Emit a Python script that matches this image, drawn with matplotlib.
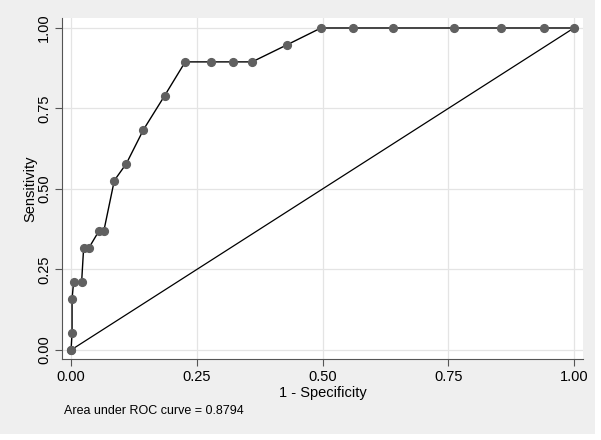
import numpy as np
import matplotlib.pyplot as plt
from matplotlib.patches import Rectangle

plt.rcParams['font.family'] = ['Liberation Sans', 'DejaVu Sans']

# ROC points (1 - specificity, sensitivity)
fpr = [0.0, 0.0, 0.002, 0.002, 0.005, 0.021, 0.025, 0.035, 0.055, 0.065,
       0.086, 0.110, 0.144, 0.186, 0.227, 0.278, 0.323, 0.360, 0.429,
       0.497, 0.560, 0.641, 0.762, 0.854, 0.940, 1.0]
tpr = [0.0, 0.0, 0.0526, 0.1579, 0.2105, 0.2105, 0.3158, 0.3158, 0.3684, 0.3684,
       0.5263, 0.5789, 0.6842, 0.7895, 0.8947, 0.8947, 0.8947, 0.8947, 0.9474,
       1.0, 1.0, 1.0, 1.0, 1.0, 1.0, 1.0]
ticks = [0.0, 0.25, 0.5, 0.75, 1.0]
tick_labels = ["0.00", "0.25", "0.50", "0.75", "1.00"]
auc = 0.8794

fig = plt.figure(figsize=(6.01, 4.40), dpi=100, facecolor='white')
# Stata-style grey graph region
fig.patches.append(Rectangle((0, 6 / 440), 595 / 601, 434 / 440,
                             transform=fig.transFigure, facecolor='#efefef',
                             edgecolor='none', zorder=-1))

ax = fig.add_axes([62 / 601, 81 / 440, 521 / 601, 341 / 440])
ax.set_facecolor('white')

ax.plot(fpr, tpr, color='black', lw=1.0, marker='o', ms=5.6,
        mfc='#606060', mec='#606060', zorder=3)
ax.plot([0, 1], [0, 1], color='black', lw=0.9, zorder=2)

ax.set_xlim(-0.018, 1.018)
ax.set_ylim(-0.028, 1.031)
ax.set_xticks(ticks)
ax.set_xticklabels(tick_labels)
ax.set_yticks(ticks)
ax.set_yticklabels(tick_labels, rotation=90, va='center')
ax.grid(True, color='#e4e4e4', lw=0.9)
ax.set_axisbelow(True)

for side in ['top', 'right']:
    ax.spines[side].set_visible(False)
for side in ['left', 'bottom']:
    ax.spines[side].set_color('#555555')
    ax.spines[side].set_linewidth(0.8)
ax.tick_params(colors='#555555', labelcolor='black', labelsize=10.5,
               length=5, width=0.8, pad=3)

ax.set_xlabel("1 - Specificity", fontsize=10.5, labelpad=1)
ax.set_ylabel("Sensitivity", fontsize=10.5, labelpad=0)

fig.text(64 / 601, 1 - 411 / 440, "Area under ROC curve = %.4f" % auc,
         fontsize=9, va='center', ha='left')

fig.savefig("out.png", dpi=100, facecolor=fig.get_facecolor())
